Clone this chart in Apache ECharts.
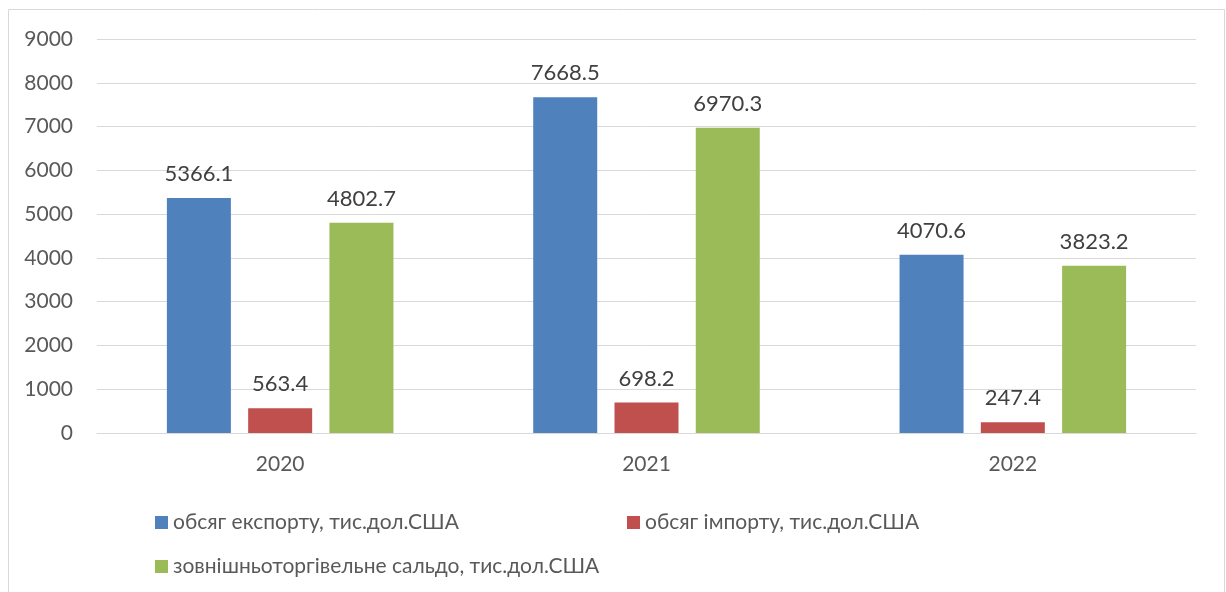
<!DOCTYPE html>
<html><head><meta charset="utf-8">
<script src="https://cdn.jsdelivr.net/npm/echarts@6/dist/echarts.min.js"></script>
<style>html,body{margin:0;padding:0;background:#fff}#c{width:1226px;height:592px}</style>
</head><body><div id="c"></div>
<script>
const categories = ['2020', '2021', '2022'];
const exportVals = [5366.1, 7668.5, 4070.6];
const importVals = [563.4, 698.2, 247.4];
const saldoVals = [4802.7, 6970.3, 3823.2];
const seriesNames = ['обсяг експорту, тис.дол.США', 'обсяг імпорту, тис.дол.США', 'зовнішньоторгівельне сальдо, тис.дол.США'];
const colors = ['#4f81bd', '#c0504d', '#9bbb59'];

const font = 'Lato, "Open Sans", sans-serif';
const chart = echarts.init(document.getElementById('c'));
const lbl = {show: true, position: 'top', distance: 13, fontFamily: font, fontSize: 22, color: '#404040', formatter: p => p.value.toFixed(1)};
function mk(i, data){
  return {name: seriesNames[i], type: 'bar', data: data, barWidth: 64, barGap: '27%',
    itemStyle: {color: colors[i]}, label: lbl, animation: false};
}
const legendBase = {orient: 'horizontal', icon: 'rect', itemWidth: 13, itemHeight: 13, itemGap: 6,
  textStyle: {fontFamily: font, fontSize: 21, color: '#595959'}, selectedMode: false};
chart.setOption({
  backgroundColor: '#fff',
  animation: false,
  graphic: [{type: 'rect', shape: {x: 8.5, y: 9.5, width: 1216, height: 600}, style: {fill: 'none', stroke: '#d9d9d9', lineWidth: 1}, z: -1}],
  grid: {left: 97, right: 30, top: 39, bottom: 159},
  legend: [
    Object.assign({}, legendBase, {data: [seriesNames[0]], left: 150, top: 507}),
    Object.assign({}, legendBase, {data: [seriesNames[1]], left: 622, top: 507}),
    Object.assign({}, legendBase, {data: [seriesNames[2]], left: 150, top: 551})
  ],
  xAxis: {type: 'category', data: categories,
    axisLine: {lineStyle: {color: '#d9d9d9'}}, axisTick: {show: false},
    axisLabel: {fontFamily: font, fontSize: 21, color: '#595959', margin: 21}},
  yAxis: {type: 'value', min: 0, max: 9000, interval: 1000,
    axisLine: {show: false}, axisTick: {show: false},
    splitLine: {lineStyle: {color: '#d9d9d9', width: 1}},
    axisLabel: {fontFamily: font, fontSize: 21, color: '#595959', margin: 24, formatter: v => String(v)}},
  series: [mk(0, exportVals), mk(1, importVals), mk(2, saldoVals)]
});
</script></body></html>
